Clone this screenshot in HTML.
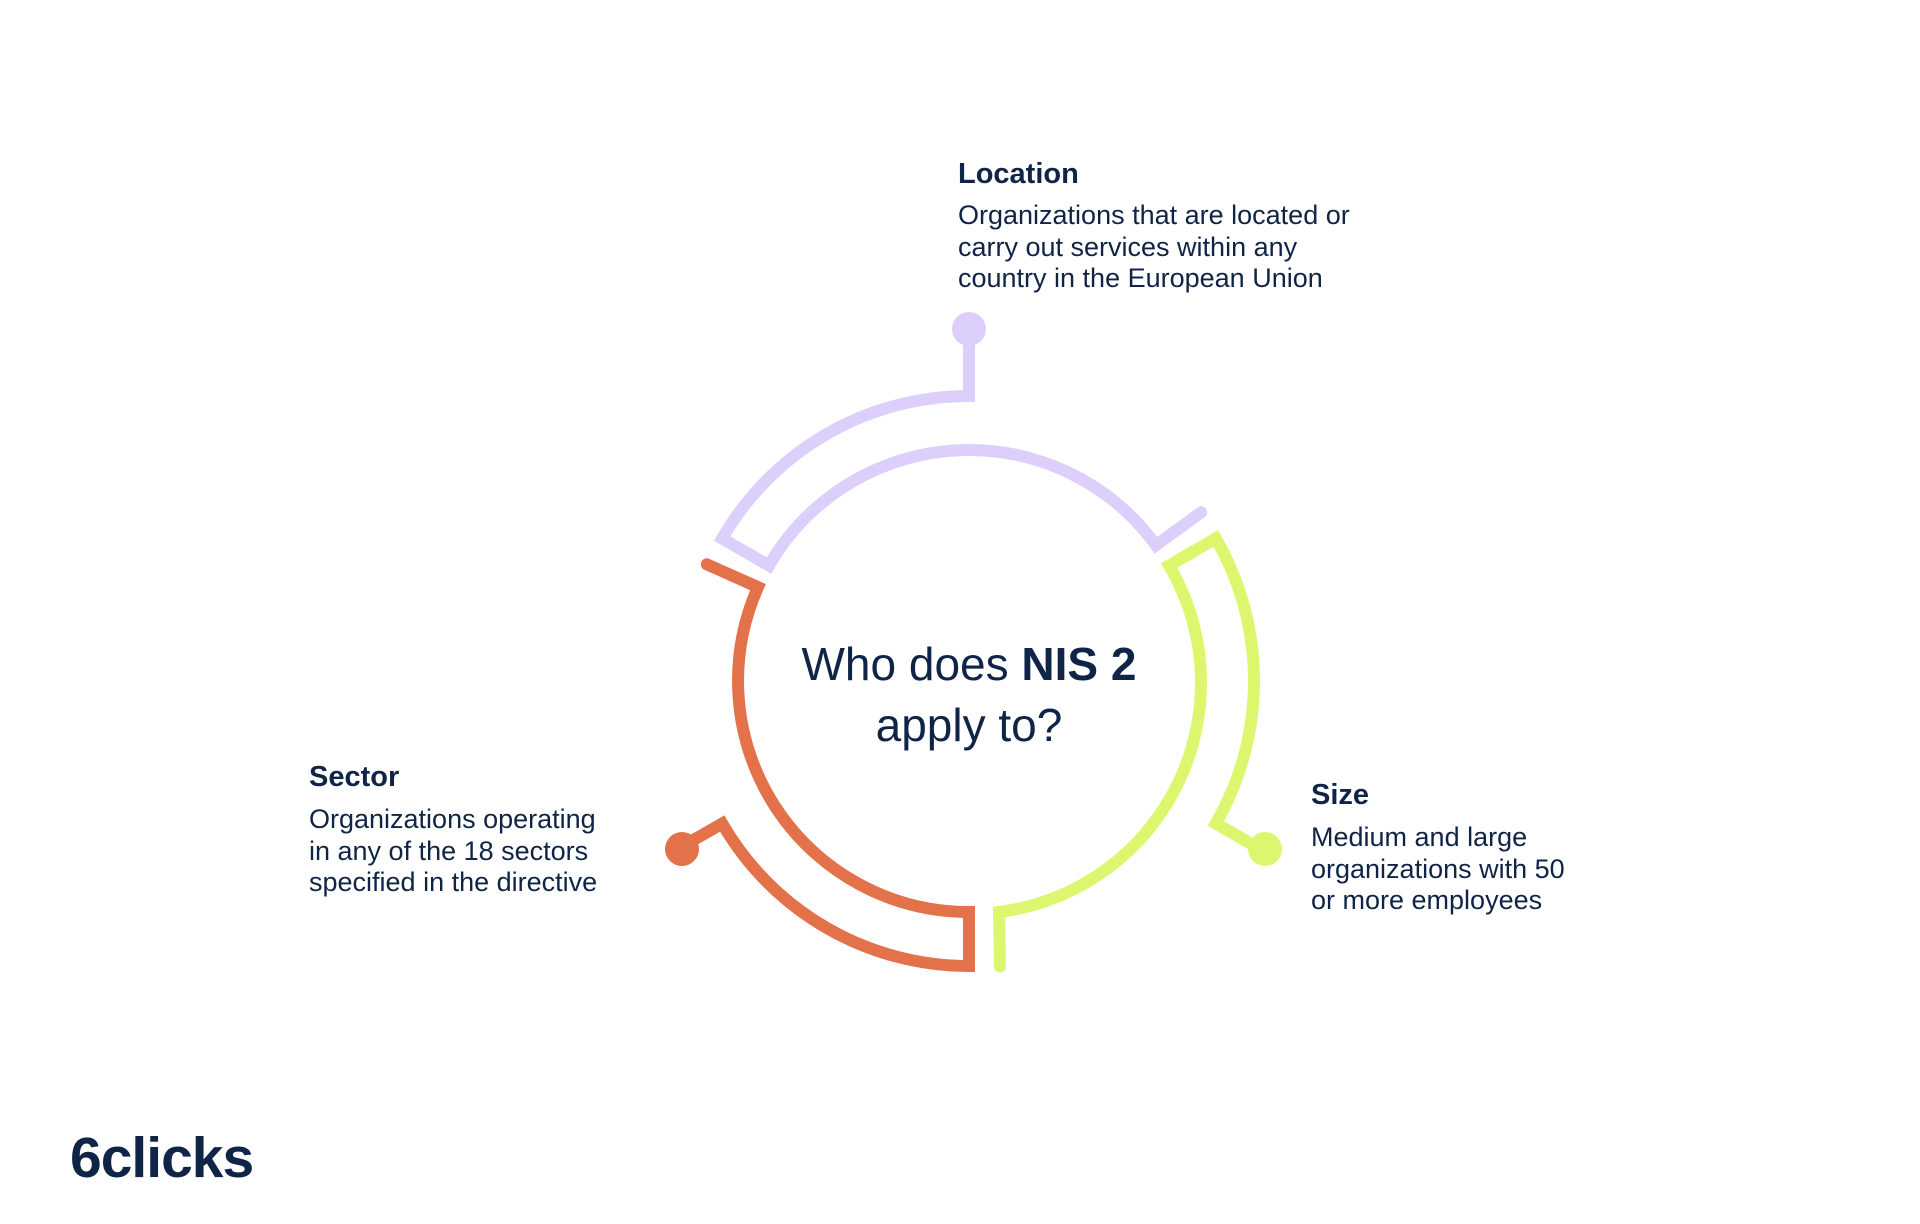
<!DOCTYPE html>
<html><head><meta charset="utf-8"><style>
html,body{margin:0;padding:0;background:#fff;}
body{width:1920px;height:1224px;position:relative;overflow:hidden;font-family:"Liberation Sans",sans-serif;color:#0f2446;}
.t{position:absolute;font-weight:bold;font-size:29px;line-height:34px;}
.b{position:absolute;font-size:27px;line-height:31.5px;white-space:nowrap;}
.c{position:absolute;left:669px;width:600px;text-align:center;font-size:46px;line-height:61px;top:634px;}
.logo{position:absolute;left:70px;top:1126px;font-weight:bold;font-size:57px;letter-spacing:-1px;line-height:64px;}
</style></head><body>
<svg width="1920" height="1224" style="position:absolute;left:0;top:0">
<g transform="translate(-9,-6)">
<g fill="none" stroke-width="12" stroke-linejoin="miter" stroke-linecap="round">
<path stroke="#dccffc" d="M1210.2,518.3 L1164.9,551.2 A231,231 0 0 0 778.0,571.5 L731.2,544.5 A285,285 0 0 1 978,402 L978,342"/>
<path stroke="#dcf76e" d="M1009,972.4 L1008,918 A231,231 0 0 0 1178.0,571.5 L1224.8,544.5 A285,285 0 0 1 1224.8,829.5 L1276.8,859.5"/>
<path stroke="#e3714a" d="M715.8,570.3 L767.0,593.1 A231,231 0 0 0 978,918 L978,972 A285,285 0 0 1 731.2,829.5 L685,856"/>
</g>
<circle cx="978" cy="335" r="17" fill="#dccffc"/>
<circle cx="1274" cy="855" r="17" fill="#dcf76e"/>
<circle cx="691" cy="855" r="17" fill="#e3714a"/>
</g>
</svg>
<div class="t" style="left:958px;top:157px">Location</div>
<div class="b" style="left:958px;top:200px">Organizations that are located or<br>carry out services within any<br>country in the European Union</div>
<div class="t" style="left:309px;top:760px">Sector</div>
<div class="b" style="left:309px;top:804px">Organizations operating<br>in any of the 18 sectors<br>specified in the directive</div>
<div class="t" style="left:1311px;top:778px">Size</div>
<div class="b" style="left:1311px;top:822px">Medium and large<br>organizations with 50<br>or more employees</div>
<div class="c">Who does <b>NIS 2</b><br>apply to?</div>
<div class="logo">6clicks</div>
</body></html>
